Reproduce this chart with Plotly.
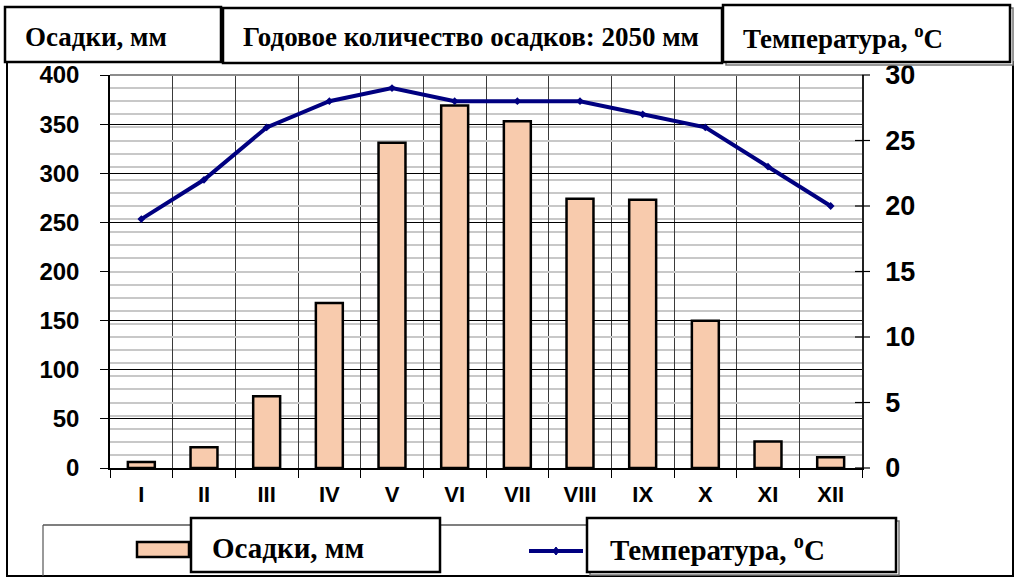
import plotly.graph_objects as go

months = ["I", "II", "III", "IV", "V", "VI", "VII", "VIII", "IX", "X", "XI", "XII"]
precip_mm = [6, 21, 73, 168, 331, 369, 353, 274, 273, 150, 27, 11]
temp_c = [19, 22, 26, 28, 29, 28, 28, 28, 27, 26, 23, 20]
precip_ticks = [0, 50, 100, 150, 200, 250, 300, 350, 400]
temp_ticks = [0, 5, 10, 15, 20, 25, 30]

title_left = "Осадки, мм"
title_mid = "Годовое количество осадков: 2050 мм"
title_right = "Температура, <sup>o</sup>C"
legend_bar = "Осадки, мм"
legend_line = "Температура, <sup>o</sup>C"

W, H = 1017, 585
L, R, T, B = 110, 862, 75, 468


def xp(px):
    return (px - L) / (R - L)


def yp(py):
    return (B - py) / (B - T)


fig = go.Figure()
fig.add_trace(go.Bar(
    x=months, y=precip_mm, name=legend_bar,
    marker=dict(color="#F8CBAD", line=dict(color="black", width=2.5)),
    yaxis="y", showlegend=False,
))
fig.add_trace(go.Scatter(
    x=months, y=temp_c, name=legend_line, mode="lines+markers",
    line=dict(color="#000080", width=4),
    marker=dict(color="#000080", size=6, symbol="diamond"),
    yaxis="y2", showlegend=False,
))

fig.update_layout(
    width=W, height=H, autosize=False,
    margin=dict(l=L, r=W - R, t=T, b=H - B, pad=0),
    paper_bgcolor="white", plot_bgcolor="white",
    template="none",
    bargap=0.57,
    xaxis=dict(
        type="category", range=[-0.5, len(months) - 0.5], tickson="boundaries",
        showgrid=True, gridcolor="#3a3a3a", gridwidth=1,
        showline=True, linecolor="black", linewidth=1.5,
        ticks="outside", ticklen=8, tickcolor="black",
        tickfont=dict(family="Liberation Sans", size=22, color="black", weight="bold"),
        ticklabelstandoff=6,
    ),
    yaxis=dict(
        range=[0, 400], tickvals=precip_ticks, showgrid=True, gridcolor="black", gridwidth=1,
        zeroline=False, showline=True, linecolor="black", linewidth=1.5,
        ticks="outside", ticklen=8, tickcolor="black",
        tickfont=dict(family="Liberation Sans", size=24, color="black", weight="bold"),
        ticklabelstandoff=16,
    ),
    yaxis2=dict(
        range=[0, 30], overlaying="y", side="right", tickvals=temp_ticks,
        showgrid=True, gridcolor="#c8c8c8", gridwidth=1.5,
        minor=dict(dtick=1, showgrid=True, gridcolor="#c8c8c8", gridwidth=1.5, ticks=""),
        zeroline=False, showline=True, linecolor="#222222", linewidth=1.5,
        ticks="outside", ticklen=16, tickcolor="rgba(0,0,0,0)",
        tickfont=dict(family="Liberation Sans", size=27, color="black", weight="bold"),
    ),
)

shapes = []
# right-axis major ticks (crossing)
for v in temp_ticks:
    py = B - v / 30 * (B - T)
    shapes.append(dict(type="line", xref="paper", yref="paper", x0=xp(R - 7), x1=xp(R + 8),
                       y0=yp(py), y1=yp(py), line=dict(color="black", width=1.2)))
# top border of plot area (gray)
shapes.append(dict(type="line", xref="paper", yref="paper", x0=0, x1=1, y0=1, y1=1,
                   line=dict(color="#8c8c8c", width=2)))
# outer chart border
shapes.append(dict(type="rect", xref="paper", yref="paper", x0=xp(7), x1=xp(1013), y0=yp(62), y1=yp(576),
                   line=dict(color="black", width=2), fillcolor="rgba(0,0,0,0)"))
# legend frame
shapes.append(dict(type="line", xref="paper", yref="paper", x0=xp(43), x1=xp(898), y0=yp(525), y1=yp(525),
                   line=dict(color="black", width=1.2)))
shapes.append(dict(type="line", xref="paper", yref="paper", x0=xp(43), x1=xp(43), y0=yp(525), y1=yp(576),
                   line=dict(color="#555555", width=1.2)))


def box(x0, y0, x1, y1, shadow=False):
    out = []
    if shadow:
        out.append(dict(type="rect", xref="paper", yref="paper", x0=xp(x0 + 3), x1=xp(x1 + 3),
                        y0=yp(y0 + 3), y1=yp(y1 + 3), line=dict(color="#777777", width=1.5),
                        fillcolor="white"))
    out.append(dict(type="rect", xref="paper", yref="paper", x0=xp(x0), x1=xp(x1),
                    y0=yp(y0), y1=yp(y1), line=dict(color="black", width=2.5), fillcolor="white"))
    return out


shapes += box(5, 7, 221, 62)
shapes += box(223, 8, 722, 63)
shapes += box(723, 5, 1010, 62, shadow=True)
shapes += box(191, 518, 440, 572)
shapes += box(587, 518, 896, 572, shadow=True)

# legend swatches
shapes.append(dict(type="rect", xref="paper", yref="paper", x0=xp(137), x1=xp(189), y0=yp(542), y1=yp(557),
                   line=dict(color="black", width=2.5), fillcolor="#F8CBAD"))
shapes.append(dict(type="line", xref="paper", yref="paper", x0=xp(529), x1=xp(583), y0=yp(551), y1=yp(551),
                   line=dict(color="#000080", width=4)))
shapes.append(dict(type="path", xref="paper", yref="paper",
                   path="M {} {} L {} {} L {} {} L {} {} Z".format(
                       xp(553), yp(551), xp(556), yp(547), xp(559), yp(551), xp(556), yp(555)),
                   line=dict(color="#000080", width=1), fillcolor="#000080"))

fig.update_layout(shapes=shapes)


def label(text, cx, cy, size):
    fig.add_annotation(text="<b>" + text + "</b>", xref="paper", yref="paper", x=xp(cx), y=yp(cy),
                       xanchor="center", yanchor="middle", showarrow=False,
                       font=dict(family="Liberation Serif", color="black", size=size))


label(title_left, 96, 37, 27)
label(title_mid, 471, 37, 27)
label(title_right, 843, 37, 27)
label(legend_bar, 288, 548, 29)
label(legend_line, 717, 548, 29)

fig.write_html("out.html", config={"displayModeBar": False},
               post_script="document.body.style.margin='0';")
